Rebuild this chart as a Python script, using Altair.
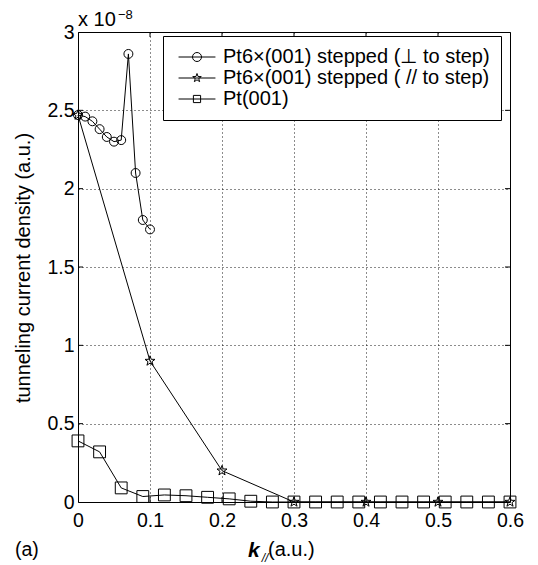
import altair as alt
import pandas as pd

# ---- data (y in units of 1e-8) ----
circle_name = "Pt6×(001) stepped (⊥ to step)"
star_name = "Pt6×(001) stepped ( // to step)"
square_name = "Pt(001)"
series_names = [circle_name, star_name, square_name]

circle_x = [0.00, 0.01, 0.02, 0.03, 0.04, 0.05, 0.06, 0.07, 0.08, 0.09, 0.10]
circle_y = [2.47, 2.46, 2.43, 2.38, 2.33, 2.30, 2.31, 2.86, 2.10, 1.80, 1.74]

star_x = [0.0, 0.1, 0.2, 0.3, 0.4, 0.5, 0.6]
star_y = [2.47, 0.90, 0.20, 0.0, 0.0, 0.0, 0.0]

square_x = [0.00, 0.03, 0.06, 0.09, 0.12, 0.15, 0.18, 0.21, 0.24, 0.27, 0.30,
            0.33, 0.36, 0.39, 0.42, 0.45, 0.48, 0.51, 0.54, 0.57, 0.60]
square_y = [0.39, 0.32, 0.09, 0.035, 0.045, 0.04, 0.03, 0.02, 0.005, 0.0, 0.0,
            0.0, 0.0, 0.0, 0.0, 0.0, 0.0, 0.0, 0.0, 0.0, 0.0]

x_ticks = [0, 0.1, 0.2, 0.3, 0.4, 0.5, 0.6]
y_ticks = [0, 0.5, 1, 1.5, 2, 2.5, 3]
x_inner_ticks = [0.1, 0.2, 0.3, 0.4, 0.5]
y_inner_ticks = [0.5, 1, 1.5, 2, 2.5]

FONT = "Liberation Sans"
W, H = 432, 470

rows = []
for n, xs, ys in [(circle_name, circle_x, circle_y),
                  (star_name, star_x, star_y),
                  (square_name, square_x, square_y)]:
    for a, b in zip(xs, ys):
        rows.append({"series": n, "k": a, "j": b})
df = pd.DataFrame(rows)

STAR = ("M0,-1L0.235,-0.324L0.951,-0.309L0.380,0.124L0.588,0.809L0,0.4"
        "L-0.588,0.809L-0.380,0.124L-0.951,-0.309L-0.235,-0.324Z")
CIRCLE = "M-1,0A1,1,0,1,0,1,0A1,1,0,1,0,-1,0Z"
SQUARE = "M-1,-1L1,-1L1,1L-1,1Z"
SQUARE_SMALL = "M-0.8,-0.8L0.8,-0.8L0.8,0.8L-0.8,0.8Z"
LINE = "M-4.1,0L4.1,0"

xscale = alt.Scale(domain=[0, 0.6], nice=False, zero=False)
yscale = alt.Scale(domain=[0, 3], nice=False, zero=False)
xaxis = alt.Axis(values=x_ticks, format="~g", title=None, labelPadding=9,
                 labelFlush=False)
yaxis = alt.Axis(values=y_ticks, format="~g", title=None, labelPadding=4,
                 labelFlush=False)

base = alt.Chart(df)

lines = base.mark_line(color="black", strokeWidth=1).encode(
    x=alt.X("k:Q", scale=xscale, axis=xaxis),
    y=alt.Y("j:Q", scale=yscale, axis=yaxis),
    detail="series:N",
)

points = base.mark_point(filled=False, color="black", strokeWidth=1, opacity=1).encode(
    x=alt.X("k:Q", scale=xscale, axis=xaxis),
    y=alt.Y("j:Q", scale=yscale, axis=yaxis),
    shape=alt.Shape("series:N", scale=alt.Scale(domain=series_names,
                                                 range=[CIRCLE, STAR, SQUARE]),
                    legend=None),
    size=alt.Size("series:N", scale=alt.Scale(domain=series_names,
                                               range=[80, 140, 40]),
                  legend=None),
)

legend_carrier = base.mark_point(filled=False, color="black", strokeWidth=1,
                                 opacity=0, size=81).encode(
    x=alt.X("k:Q", scale=xscale, axis=xaxis),
    y=alt.Y("j:Q", scale=yscale, axis=yaxis),
    shape=alt.Shape(
        "series:N",
        scale=alt.Scale(domain=series_names,
                        range=[LINE + CIRCLE, LINE + STAR, LINE + SQUARE_SMALL]),
        legend=alt.Legend(
            title=None, orient="none", legendX=85, legendY=4,
            strokeColor="black", fillColor="white", padding=11,
            labelFont=FONT, labelFontSize=20, labelColor="black",
            labelLimit=500, labelOffset=16, symbolOffset=13,
            symbolSize=81, symbolOpacity=1, symbolStrokeColor="black",
            symbolStrokeWidth=1, symbolFillColor="transparent", rowPadding=1,
        ),
    ),
)

tick_df_x = pd.DataFrame({"v": x_inner_ticks})
tick_df_y = pd.DataFrame({"v": y_inner_ticks})

ticks_bottom = alt.Chart(tick_df_x).mark_rule(color="black", strokeWidth=1).encode(
    x=alt.X("v:Q", scale=xscale, axis=xaxis), y=alt.value(H), y2=alt.value(H - 5))
ticks_top = alt.Chart(tick_df_x).mark_rule(color="black", strokeWidth=1).encode(
    x=alt.X("v:Q", scale=xscale, axis=xaxis), y=alt.value(0), y2=alt.value(5))
ticks_left = alt.Chart(tick_df_y).mark_rule(color="black", strokeWidth=1).encode(
    y=alt.Y("v:Q", scale=yscale, axis=yaxis), x=alt.value(0), x2=alt.value(5))
ticks_right = alt.Chart(tick_df_y).mark_rule(color="black", strokeWidth=1).encode(
    y=alt.Y("v:Q", scale=yscale, axis=yaxis), x=alt.value(W), x2=alt.value(W - 5))

txt = pd.DataFrame({"t": [0]})

def label(text, x, y, size, align="left", baseline="middle", angle=0,
          weight="normal", style="normal"):
    return alt.Chart(txt).mark_text(
        text=text, font=FONT, fontSize=size, align=align, baseline=baseline,
        angle=angle, fontWeight=weight, fontStyle=style, color="black",
    ).encode(x=alt.value(x), y=alt.value(y))

annotations = [
    label("tunneling current density (a.u.)", -54, 236, 20, align="center", angle=270),
    label("x 10", 0, -12, 20),
    label("−8", 40, -17, 13),
    label("(a)", -63, 518, 19.5),
    label("k", 170, 519, 21, weight="bold", style="italic"),
    label("//", 187, 526, 12, align="center", style="italic"),
    label("(a.u.)", 190, 518, 20),
]

chart = alt.layer(
    lines, points, legend_carrier,
    ticks_bottom, ticks_top, ticks_left, ticks_right,
    *annotations,
).resolve_scale(shape="independent", size="independent").properties(
    width=W, height=H,
    autosize=alt.AutoSizeParams(type="none"),
    padding={"left": 70, "top": 24, "right": 20, "bottom": 63},
).configure_view(
    stroke="black", strokeWidth=1
).configure_axis(
    grid=True, gridColor="black", gridDash=[1, 3], gridWidth=1, gridOpacity=0.9,
    domain=False, ticks=False,
    labelFont=FONT, labelFontSize=19.5, labelColor="black",
)

chart.save("out.html", embed_options={"renderer": "svg", "actions": False})
